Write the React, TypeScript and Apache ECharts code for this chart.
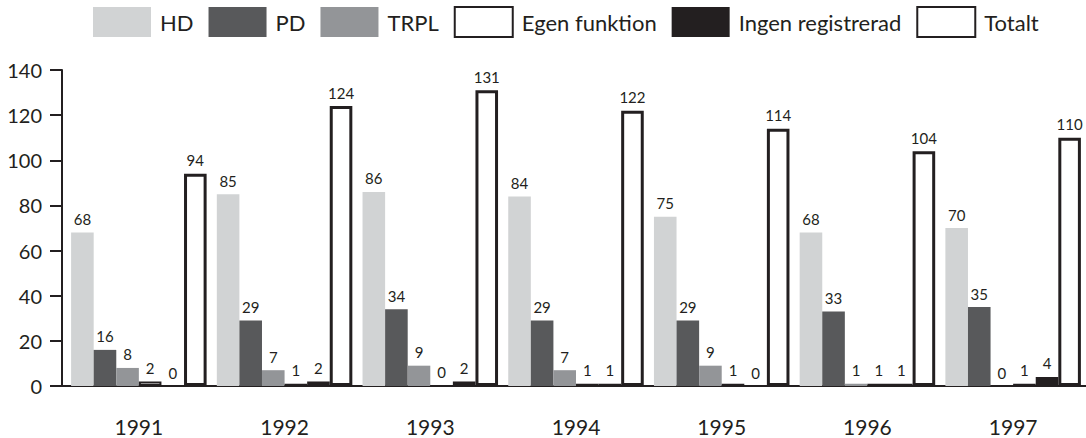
import React, { useEffect, useRef } from "react";
import * as echarts from "echarts";

const years = ["1991", "1992", "1993", "1994", "1995", "1996", "1997"];
const seriesNames = ["HD", "PD", "TRPL", "Egen funktion", "Ingen registrerad", "Totalt"];
const hd = [68, 85, 86, 84, 75, 68, 70];
const pd = [16, 29, 34, 29, 29, 33, 35];
const trpl = [8, 7, 9, 7, 9, 1, 0];
const egen = [2, 1, 0, 1, 1, 1, 1];
const ingen = [0, 2, 2, 1, 0, 1, 4];
const totalt = [94, 124, 131, 122, 114, 104, 110];
const yTicks = [0, 20, 40, 60, 80, 100, 120, 140];

const INK = "#231f20";
const FONT = "Lato, 'Open Sans', sans-serif";

export default function App() {
  const ref = useRef<HTMLDivElement>(null);
  useEffect(() => {
    if (!ref.current) return;
    const chart = echarts.init(ref.current, undefined, { renderer: "svg" });
    const label = {
      show: true,
      position: "top",
      distance: 6,
      color: INK,
      fontSize: 15,
      fontFamily: FONT,
    };
    const styles = [
      { color: "#d1d3d4" },
      { color: "#58595b" },
      { color: "#939598" },
      { color: "#ffffff", borderColor: INK, borderWidth: 2 },
      { color: INK },
      { color: "#ffffff", borderColor: INK, borderWidth: 3 },
    ];
    const datas = [hd, pd, trpl, egen, ingen, totalt];
    chart.setOption({
      animation: false,
      textStyle: { fontFamily: FONT, color: INK },
      legend: {
        left: 93,
        top: 6,
        padding: 0,
        itemWidth: 58,
        itemHeight: 30,
        itemGap: 15,
        icon: "rect",
        textStyle: { fontSize: 22, color: INK, fontFamily: FONT, padding: [0, 0, 0, 4] },
        data: seriesNames,
      },
      grid: { left: 66, right: 0, top: 70, bottom: 52 },
      xAxis: {
        type: "category",
        data: years,
        axisLine: { show: true, lineStyle: { color: INK, width: 2 } },
        axisTick: { show: false },
        axisLabel: { color: INK, fontSize: 21, fontFamily: FONT, margin: 30 },
      },
      yAxis: {
        type: "value",
        min: yTicks[0],
        max: yTicks[yTicks.length - 1],
        interval: 20,
        offset: 4,
        axisLine: { show: true, lineStyle: { color: INK, width: 2 } },
        axisTick: { show: true, length: 12, lineStyle: { color: INK, width: 2 } },
        axisLabel: { color: INK, fontSize: 20, fontFamily: FONT, margin: 20 },
        splitLine: { show: false },
      },
      graphic: [
        {
          type: "line",
          shape: { x1: 61, y1: 386, x2: 67, y2: 386 },
          style: { stroke: INK, lineWidth: 2 },
        },
      ],
      series: seriesNames.map((name, i) => ({
        name,
        type: "bar",
        data: datas[i],
        barGap: "0%",
        barCategoryGap: "7%",
        itemStyle: styles[i],
        label,
      })),
    });
    return () => chart.dispose();
  }, []);
  return (
    <div
      ref={ref}
      style={{ position: "fixed", left: 0, top: 0, width: 1086, height: 438, background: "#fff" }}
    />
  );
}
